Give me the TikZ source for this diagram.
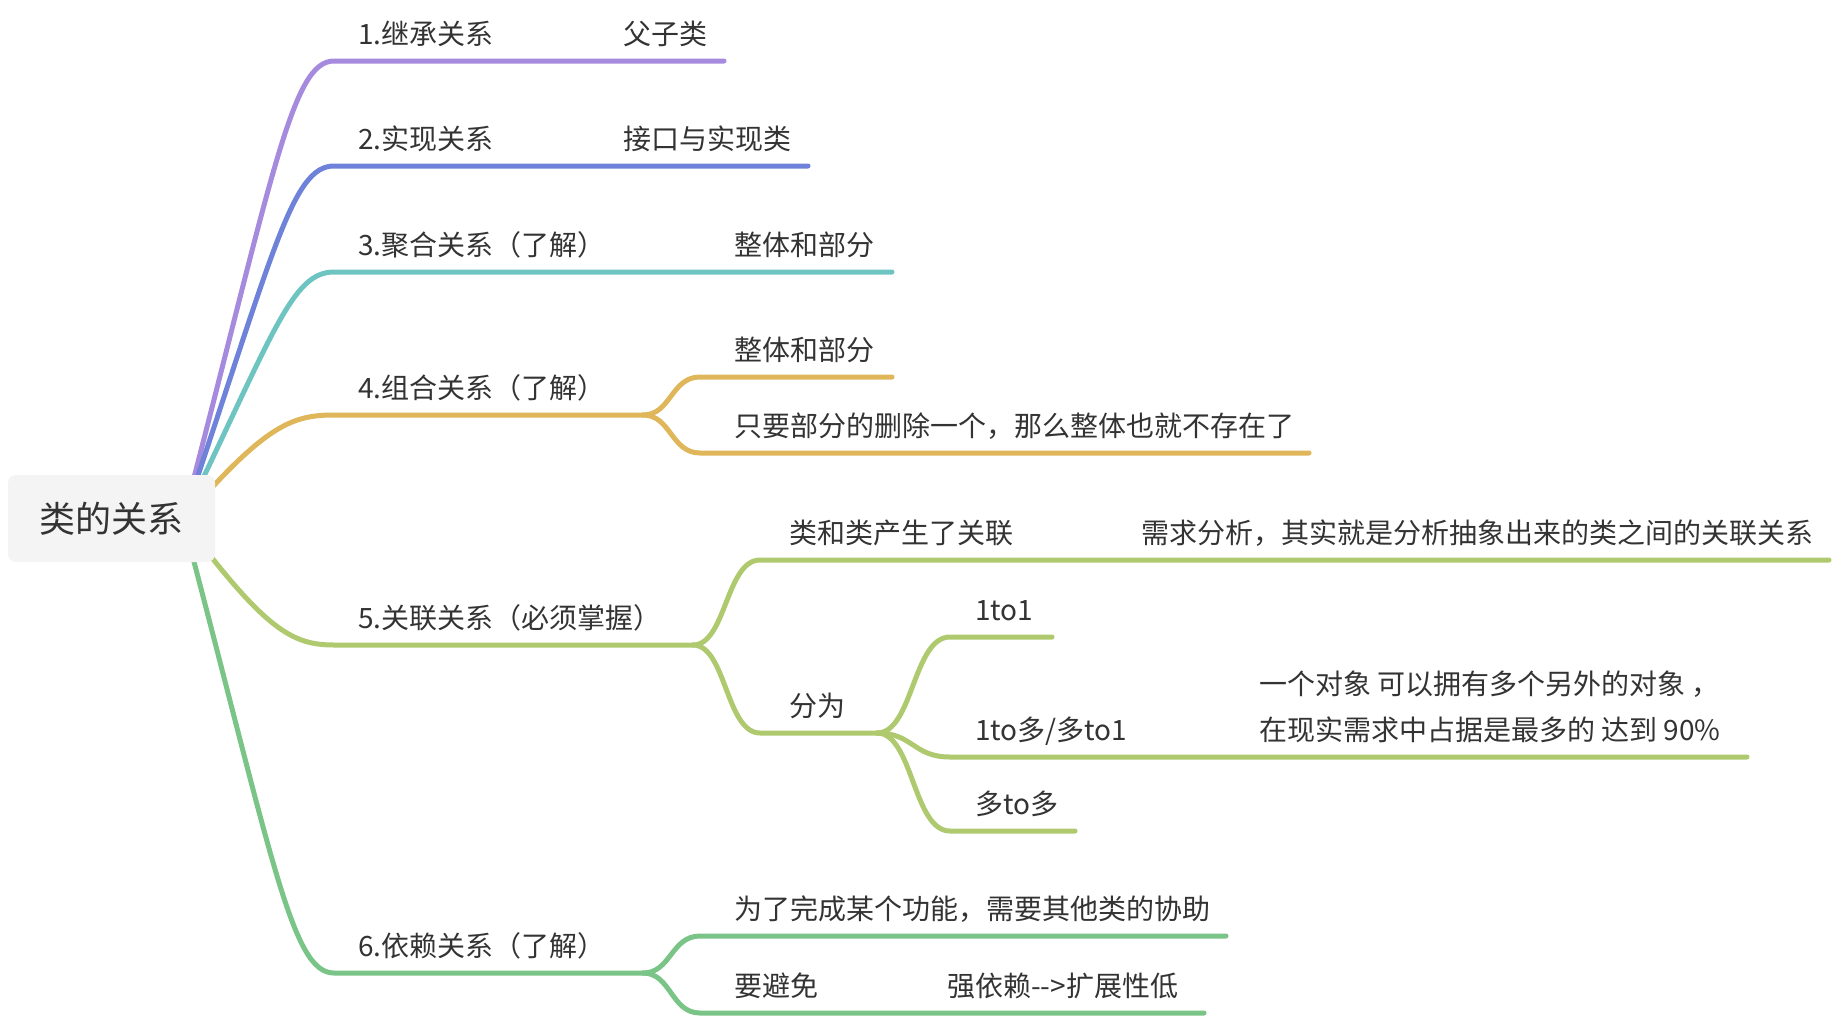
\documentclass[tikz,border=0pt]{standalone}
\usepackage{fontspec}
\setmainfont{Noto Sans CJK SC}
\definecolor{cpurple}{HTML}{A68ADE}
\definecolor{cblue}{HTML}{6F82D9}
\definecolor{cteal}{HTML}{6DC4C1}
\definecolor{cgold}{HTML}{E0B65A}
\definecolor{colive}{HTML}{AFC96E}
\definecolor{cgreen}{HTML}{7BC487}
\definecolor{textgray}{HTML}{333333}
\definecolor{rootfill}{HTML}{F4F4F4}
\begin{document}
\begin{tikzpicture}[x=1pt,y=-1pt,
  txt/.style={anchor=base west,inner sep=0pt,text=textgray,font=\fontsize{28}{34}\selectfont},
  br/.style={line width=5pt,line cap=round,line join=round},
  rootbox/.style={fill=rootfill,rounded corners=8pt,inner sep=0pt,minimum width=207pt,minimum height=87pt,text=textgray,font=\fontsize{36}{42}\selectfont}]
\useasboundingbox (0,0) rectangle (1836,1018);

% origin of root branches (hidden under root box)
\coordinate (O) at (183,520);

% ---------- branch 1 ----------
\coordinate (b1) at (334,61);
\coordinate (b1e) at (724,61);
\draw[br,cpurple] (O) .. controls (274,171) and (292,61) .. (b1) -- (b1e);
% ---------- branch 2 ----------
\coordinate (b2) at (334,166);
\coordinate (b2e) at (808,166);
\draw[br,cblue] (O) .. controls (274,251) and (292,166) .. (b2) -- (b2e);
% ---------- branch 3 ----------
\coordinate (b3) at (334,272);
\coordinate (b3e) at (892,272);
\draw[br,cteal] (O) .. controls (274,332) and (292,272) .. (b3) -- (b3e);
% ---------- branch 4 ----------
\coordinate (b4) at (334,415);
\coordinate (f4) at (643,415);
\coordinate (b4a) at (700,377);
\coordinate (b4ae) at (892,377);
\coordinate (b4b) at (700,453);
\coordinate (b4be) at (1309,453);
\draw[br,cgold] (O) .. controls (265,425) and (292,415) .. (b4) -- (f4);
\draw[br,cgold] (f4) .. controls (671,415) and (671,377) .. (b4a) -- (b4ae);
\draw[br,cgold] (f4) .. controls (671,415) and (671,453) .. (b4b) -- (b4be);
% ---------- branch 5 ----------
\coordinate (b5) at (334,645);
\coordinate (f5) at (693,645);
\coordinate (b5a) at (760,560);
\coordinate (b5ae) at (1829,560);
\coordinate (b5b) at (760,733);
\coordinate (f5b) at (877,733);
\coordinate (d1) at (950,637);
\coordinate (d1e) at (1052,637);
\coordinate (d2) at (950,757);
\coordinate (d2e) at (1747,757);
\coordinate (d3) at (950,831);
\coordinate (d3e) at (1075,831);
\draw[br,colive] (O) .. controls (265,630) and (292,645) .. (b5) -- (f5);
\draw[br,colive] (f5) .. controls (726,645) and (726,560) .. (b5a) -- (b5ae);
\draw[br,colive] (f5) .. controls (726,645) and (726,733) .. (b5b) -- (f5b);
\draw[br,colive] (f5b) .. controls (913,733) and (913,637) .. (d1) -- (d1e);
\draw[br,colive] (f5b) .. controls (913,733) and (913,757) .. (d2) -- (d2e);
\draw[br,colive] (f5b) .. controls (913,733) and (913,831) .. (d3) -- (d3e);
% ---------- branch 6 ----------
\coordinate (b6) at (334,973);
\coordinate (f6) at (643,973);
\coordinate (b6a) at (700,936);
\coordinate (b6ae) at (1226,936);
\coordinate (b6b) at (700,1013);
\coordinate (b6be) at (1204,1013);
\draw[br,cgreen] (O) .. controls (274,864) and (292,973) .. (b6) -- (f6);
\draw[br,cgreen] (f6) .. controls (671,973) and (671,936) .. (b6a) -- (b6ae);
\draw[br,cgreen] (f6) .. controls (671,973) and (671,1013) .. (b6b) -- (b6be);

% ---------- root ----------
\node[rootbox] (root) at (111.5,518.5) {类的关系};

% ---------- texts ----------
\node[txt] (t1) at (358,44) {1.继承关系};
\node[txt] (c1) at (623,44) {父子类};
\node[txt] (t2) at (358,149) {2.实现关系};
\node[txt] (c2) at (623,149) {接口与实现类};
\node[txt] (t3) at (358,255) {3.聚合关系（了解）};
\node[txt] (c3) at (734,255) {整体和部分};
\node[txt] (t4) at (358,398) {4.组合关系（了解）};
\node[txt] (c4a) at (734,360) {整体和部分};
\node[txt] (c4b) at (734,436) {只要部分的删除一个，那么整体也就不存在了};
\node[txt] (t5) at (358,628) {5.关联关系（必须掌握）};
\node[txt] (c5a) at (789,543) {类和类产生了关联};
\node[txt] (g5a) at (1141,543) {需求分析，其实就是分析抽象出来的类之间的关联关系};
\node[txt] (c5b) at (789,716) {分为};
\node[txt] (e1) at (975,620) {1to1};
\node[txt] (e2) at (975,740) {1to多/多to1};
\node[txt] (g2a) at (1259,694) {一个对象 可以拥有多个另外的对象 ，};
\node[txt] (g2b) at (1259,740) {在现实需求中占据是最多的 达到 90\%};
\node[txt] (e3) at (975,814) {多to多};
\node[txt] (t6) at (358,956) {6.依赖关系（了解）};
\node[txt] (c6a) at (734,919) {为了完成某个功能，需要其他类的协助};
\node[txt] (c6b) at (734,996) {要避免};
\node[txt] (g6b) at (947,996) {强依赖-{}->扩展性低};
\end{tikzpicture}
\end{document}
